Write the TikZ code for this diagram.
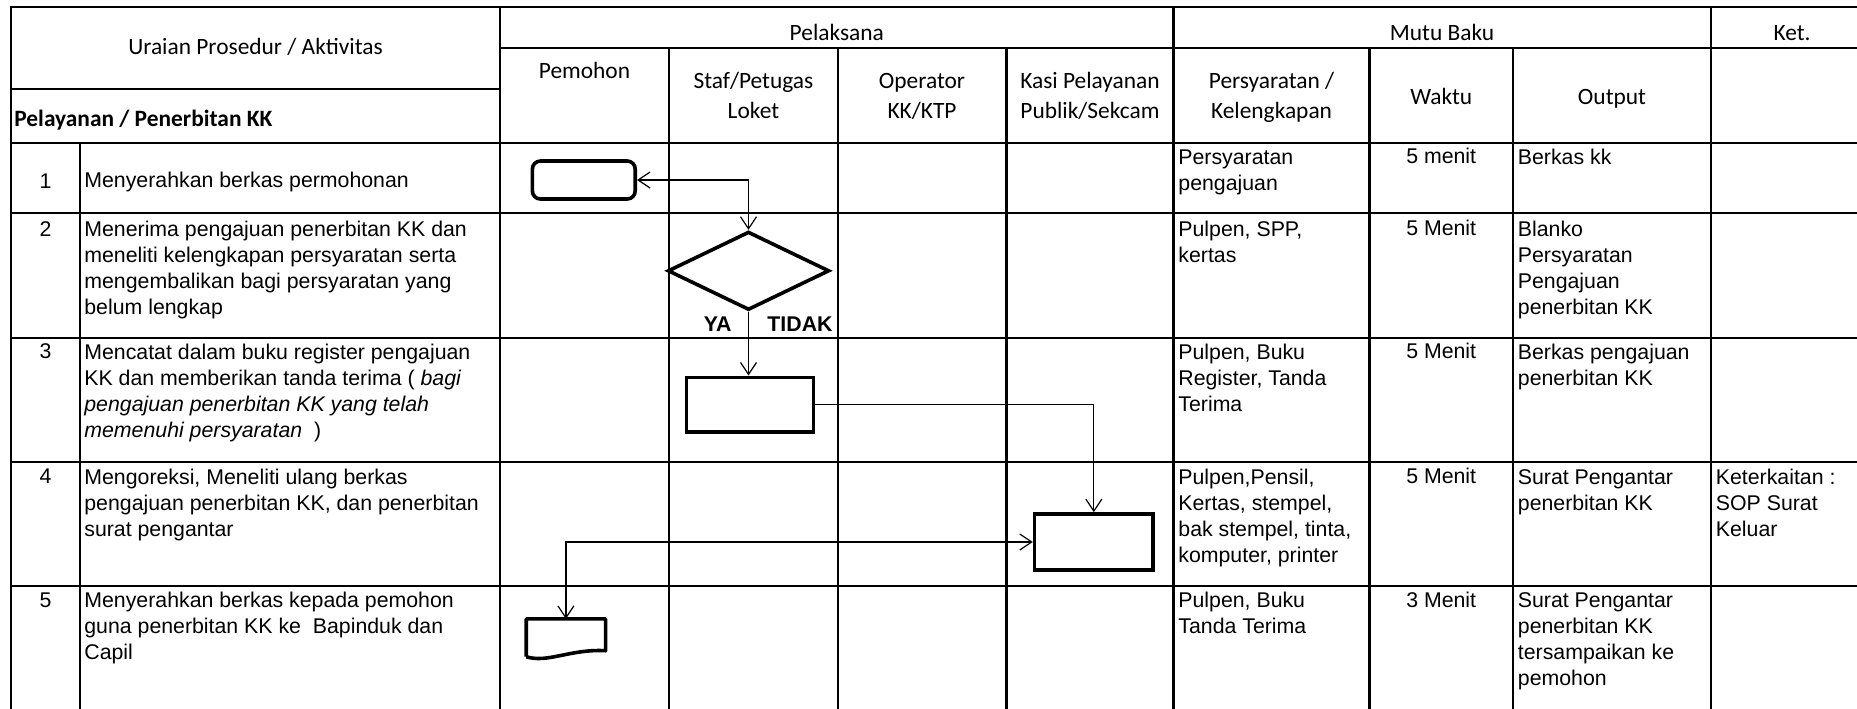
\documentclass[tikz,border=0pt]{standalone}
\usepackage{fontspec}
\setmainfont{Liberation Sans}
\newfontfamily\hdrfamily{Carlito}
\usetikzlibrary{shapes.geometric,arrows.meta,calc}
\newcommand\bodyfont{\fontsize{10.65pt}{13pt}\selectfont}
\newcommand\hdrfont{\hdrfamily\fontsize{11.7pt}{15.15pt}\selectfont}
\begin{document}
\begin{tikzpicture}[x=0.5pt,y=-0.5pt,
  >={Straight Barb[length=6pt,width=8pt]},
  grid/.style={line width=1.1pt,line cap=rect},
  shp/.style={draw,line width=1.8pt,inner sep=0pt,fill=white},
  conn/.style={line width=0.6pt},
  cell/.style={anchor=north west,inner sep=0pt,align=left,font=\bodyfont},
  num/.style={anchor=base,inner sep=0pt,font=\bodyfont},
  hdr/.style={anchor=base,inner sep=0pt,font=\hdrfont},
  yn/.style={anchor=base,inner sep=0pt,font=\bodyfont\bfseries}]
\useasboundingbox (0,0) rectangle (1857,708);
% ---- grid ----
\draw[grid] (11,6.7) -- (1857,6.7);
\draw[grid] (500,47.7) -- (1857,47.7);
\draw[grid] (11,89.3) -- (500,89.3);
\foreach \yy in {142.7,213.3,337.7,462,586} \draw[grid] (11,\yy) -- (1857,\yy);
\foreach \xx in {11,500,1173.5,1711} \draw[grid] (\xx,6.7) -- (\xx,708);
\draw[grid] (80,142.7) -- (80,708);
\foreach \xx in {669,837.8,1006.5,1369.4,1513} \draw[grid] (\xx,47.7) -- (\xx,708);
% ---- headers ----
\node[hdr] (hUraian) at (255.5,54) {Uraian Prosedur / Aktivitas};
\node[anchor=base west,inner sep=0pt,font=\hdrfont\bfseries] (hLayan) at (14,126) {Pelayanan / Penerbitan KK};
\node[hdr] (hPel) at (836.8,40.5) {Pelaksana};
\node[hdr] (hMutu) at (1442,40.5) {Mutu Baku};
\node[hdr] (hKet) at (1792,40.5) {Ket.};
\node[hdr] (hPem) at (584.5,78) {Pemohon};
\node[hdr] (hStaf) at (753.4,88) {Staf/Petugas};
\node[hdr] (hStafb) at (753.4,118.5) {Loket};
\node[hdr] (hOp) at (922,88) {Operator};
\node[hdr] (hOpb) at (922,118.5) {KK/KTP};
\node[hdr] (hKasi) at (1090,88) {Kasi Pelayanan};
\node[hdr] (hKasib) at (1090,118.5) {Publik/Sekcam};
\node[hdr] (hPers) at (1271.5,88) {Persyaratan /};
\node[hdr] (hPersb) at (1271.5,118.5) {Kelengkapan};
\node[hdr] (hWak) at (1441.2,104) {Waktu};
\node[hdr] (hOut) at (1612,104) {Output};
% ---- row 1 ----
\node[num] (n1) at (45.5,188.2) {1};
\node[cell] (u1) at (84,168.8) {\strut Menyerahkan berkas permohonan};
\node[cell] (p1) at (1178,145.5) {\strut Persyaratan\\pengajuan};
\node[num] (w1) at (1441.2,163.7) {5 menit};
\node[cell] (o1) at (1517.5,145.5) {\strut Berkas kk};
% ---- row 2 ----
\node[num] (n2) at (45.5,236) {2};
\node[cell] (u2) at (84,217.5) {\strut Menerima pengajuan penerbitan KK dan\\meneliti kelengkapan persyaratan serta\\mengembalikan bagi persyaratan yang\\belum lengkap};
\node[cell] (p2) at (1178,217.5) {\strut Pulpen, SPP,\\kertas};
\node[num] (w2) at (1441.2,235.7) {5 Menit};
\node[cell] (o2) at (1517.5,217.5) {\strut Blanko\\Persyaratan\\Pengajuan\\penerbitan KK};
% ---- row 3 ----
\node[num] (n3) at (45.5,358.7) {3};
\node[cell] (u3) at (84,340.5) {\strut Mencatat dalam buku register pengajuan\\KK dan memberikan tanda terima ( \textit{bagi}\\\textit{pengajuan penerbitan KK yang telah}\\\textit{memenuhi persyaratan}\ \ )};
\node[cell] (p3) at (1178,340.5) {\strut Pulpen, Buku\\Register, Tanda\\Terima};
\node[num] (w3) at (1441.2,358.7) {5 Menit};
\node[cell] (o3) at (1517.5,340.5) {\strut Berkas pengajuan\\penerbitan KK};
% ---- row 4 ----
\node[num] (n4) at (45.5,483.7) {4};
\node[cell] (u4) at (84,465.5) {\strut Mengoreksi, Meneliti ulang berkas\\pengajuan penerbitan KK, dan penerbitan\\surat pengantar};
\node[cell] (p4) at (1178,465.5) {\strut Pulpen,Pensil,\\Kertas, stempel,\\bak stempel, tinta,\\komputer, printer};
\node[num] (w4) at (1441.2,483.7) {5 Menit};
\node[cell] (o4) at (1517.5,465.5) {\strut Surat Pengantar\\penerbitan KK};
\node[cell] (k4) at (1715.5,465.5) {\strut Keterkaitan :\\SOP Surat\\Keluar};
% ---- row 5 ----
\node[num] (n5) at (45.5,607) {5};
\node[cell] (u5) at (84,588.8) {\strut Menyerahkan berkas kepada pemohon\\guna penerbitan KK ke\ \ Bapinduk dan\\Capil};
\node[cell] (p5) at (1178,588.8) {\strut Pulpen, Buku\\Tanda Terima};
\node[num] (w5) at (1441.2,607) {3 Menit};
\node[cell] (o5) at (1517.5,588.8) {\strut Surat Pengantar\\penerbitan KK\\tersampaikan ke\\pemohon};
% ---- flow shapes ----
\node[shp,rectangle,rounded corners=4pt,minimum width=51.4pt,minimum height=19pt] (term) at (583.8,180) {};
\node[shp,diamond,aspect=2.06,minimum width=80.8pt,minimum height=39.2pt] (dec) at (748.5,270.8) {};
\node[yn] (ya) at (717.7,331) {YA};
\node[yn] (tidak) at (800,331) {TIDAK};
\node[shp,rectangle,minimum width=63.6pt,minimum height=27.2pt] (proc3) at (750,404.5) {};
\node[shp,rectangle,minimum width=59.2pt,minimum height=28pt] (proc4) at (1093.8,542) {};
\node[inner sep=0pt,minimum width=39.3pt,minimum height=18.5pt] (doc) at (565.9,637.8) {};
\draw[line width=1.8pt,line join=round]
  (doc.south west) -- (doc.north west) -- (doc.north east) -- ([yshift=3pt]doc.south east)
  .. controls +(-17.6pt,1pt) and +(10.7pt,-3.4pt) .. (doc.south west);
% ---- connectors ----
\draw[conn,<->] (term.east) -| (dec.north);
\draw[conn,->] (dec.south) -- (dec.south |- proc3.north);
\draw[conn,->] (proc3.east) -| (proc4.north);
\draw[conn,<->] (proc4.west) -| (doc.north);
\end{tikzpicture}
\end{document}
